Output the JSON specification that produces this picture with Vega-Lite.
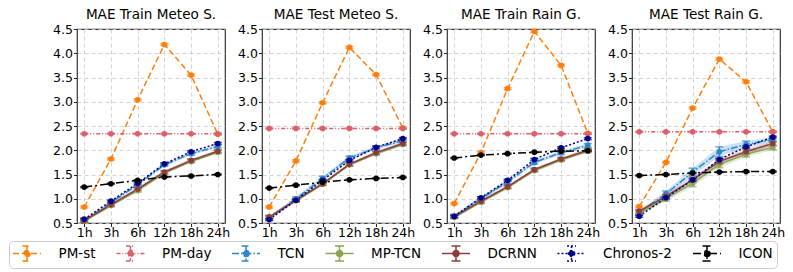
{
"$schema": "https://vega.github.io/schema/vega-lite/v6.json",
"padding": {"left": 8, "top": 8, "right": 5, "bottom": 5},
"background": "white",
"config": {
  "font": "DejaVu Sans",
  "view": {"stroke": "#333333", "strokeWidth": 1.2},
  "axis": {"grid": true, "gridColor": "#c8c8c8", "gridDash": [4, 3], "gridWidth": 0.8, "domain": false, "tickColor": "#222222", "tickSize": 3.5, "labelFontSize": 12.5, "labelColor": "#000000", "labelFont": "DejaVu Sans", "labelOverlap": false}
},
"datasets": {
"d": [
{"p":"MAE Train Meteo S.","m":"PM-st","h":"1h","v":0.83,"e":0.02},
{"p":"MAE Train Meteo S.","m":"PM-st","h":"3h","v":1.82,"e":0.02},
{"p":"MAE Train Meteo S.","m":"PM-st","h":"6h","v":3.04,"e":0.02},
{"p":"MAE Train Meteo S.","m":"PM-st","h":"12h","v":4.18,"e":0.02},
{"p":"MAE Train Meteo S.","m":"PM-st","h":"18h","v":3.55,"e":0.02},
{"p":"MAE Train Meteo S.","m":"PM-st","h":"24h","v":2.33,"e":0.02},
{"p":"MAE Train Meteo S.","m":"PM-day","h":"1h","v":2.34,"e":0.01},
{"p":"MAE Train Meteo S.","m":"PM-day","h":"3h","v":2.34,"e":0.01},
{"p":"MAE Train Meteo S.","m":"PM-day","h":"6h","v":2.34,"e":0.01},
{"p":"MAE Train Meteo S.","m":"PM-day","h":"12h","v":2.34,"e":0.01},
{"p":"MAE Train Meteo S.","m":"PM-day","h":"18h","v":2.34,"e":0.01},
{"p":"MAE Train Meteo S.","m":"PM-day","h":"24h","v":2.34,"e":0.01},
{"p":"MAE Train Meteo S.","m":"TCN","h":"1h","v":0.55,"e":0.03},
{"p":"MAE Train Meteo S.","m":"TCN","h":"3h","v":0.92,"e":0.03},
{"p":"MAE Train Meteo S.","m":"TCN","h":"6h","v":1.29,"e":0.03},
{"p":"MAE Train Meteo S.","m":"TCN","h":"12h","v":1.70,"e":0.03},
{"p":"MAE Train Meteo S.","m":"TCN","h":"18h","v":1.93,"e":0.03},
{"p":"MAE Train Meteo S.","m":"TCN","h":"24h","v":2.08,"e":0.03},
{"p":"MAE Train Meteo S.","m":"MP-TCN","h":"1h","v":0.54,"e":0.03},
{"p":"MAE Train Meteo S.","m":"MP-TCN","h":"3h","v":0.86,"e":0.03},
{"p":"MAE Train Meteo S.","m":"MP-TCN","h":"6h","v":1.17,"e":0.03},
{"p":"MAE Train Meteo S.","m":"MP-TCN","h":"12h","v":1.53,"e":0.03},
{"p":"MAE Train Meteo S.","m":"MP-TCN","h":"18h","v":1.77,"e":0.03},
{"p":"MAE Train Meteo S.","m":"MP-TCN","h":"24h","v":1.96,"e":0.03},
{"p":"MAE Train Meteo S.","m":"DCRNN","h":"1h","v":0.55,"e":0.03},
{"p":"MAE Train Meteo S.","m":"DCRNN","h":"3h","v":0.88,"e":0.03},
{"p":"MAE Train Meteo S.","m":"DCRNN","h":"6h","v":1.20,"e":0.03},
{"p":"MAE Train Meteo S.","m":"DCRNN","h":"12h","v":1.55,"e":0.03},
{"p":"MAE Train Meteo S.","m":"DCRNN","h":"18h","v":1.79,"e":0.03},
{"p":"MAE Train Meteo S.","m":"DCRNN","h":"24h","v":1.98,"e":0.03},
{"p":"MAE Train Meteo S.","m":"Chronos-2","h":"1h","v":0.58,"e":0.02},
{"p":"MAE Train Meteo S.","m":"Chronos-2","h":"3h","v":0.95,"e":0.02},
{"p":"MAE Train Meteo S.","m":"Chronos-2","h":"6h","v":1.32,"e":0.02},
{"p":"MAE Train Meteo S.","m":"Chronos-2","h":"12h","v":1.72,"e":0.02},
{"p":"MAE Train Meteo S.","m":"Chronos-2","h":"18h","v":1.97,"e":0.02},
{"p":"MAE Train Meteo S.","m":"Chronos-2","h":"24h","v":2.14,"e":0.02},
{"p":"MAE Train Meteo S.","m":"ICON","h":"1h","v":1.24,"e":0.01},
{"p":"MAE Train Meteo S.","m":"ICON","h":"3h","v":1.31,"e":0.01},
{"p":"MAE Train Meteo S.","m":"ICON","h":"6h","v":1.38,"e":0.01},
{"p":"MAE Train Meteo S.","m":"ICON","h":"12h","v":1.45,"e":0.01},
{"p":"MAE Train Meteo S.","m":"ICON","h":"18h","v":1.47,"e":0.01},
{"p":"MAE Train Meteo S.","m":"ICON","h":"24h","v":1.50,"e":0.01},

{"p":"MAE Test Meteo S.","m":"PM-st","h":"1h","v":0.83,"e":0.02},
{"p":"MAE Test Meteo S.","m":"PM-st","h":"3h","v":1.78,"e":0.02},
{"p":"MAE Test Meteo S.","m":"PM-st","h":"6h","v":2.98,"e":0.02},
{"p":"MAE Test Meteo S.","m":"PM-st","h":"12h","v":4.12,"e":0.02},
{"p":"MAE Test Meteo S.","m":"PM-st","h":"18h","v":3.56,"e":0.02},
{"p":"MAE Test Meteo S.","m":"PM-st","h":"24h","v":2.46,"e":0.02},
{"p":"MAE Test Meteo S.","m":"PM-day","h":"1h","v":2.45,"e":0.01},
{"p":"MAE Test Meteo S.","m":"PM-day","h":"3h","v":2.45,"e":0.01},
{"p":"MAE Test Meteo S.","m":"PM-day","h":"6h","v":2.45,"e":0.01},
{"p":"MAE Test Meteo S.","m":"PM-day","h":"12h","v":2.45,"e":0.01},
{"p":"MAE Test Meteo S.","m":"PM-day","h":"18h","v":2.45,"e":0.01},
{"p":"MAE Test Meteo S.","m":"PM-day","h":"24h","v":2.45,"e":0.01},
{"p":"MAE Test Meteo S.","m":"TCN","h":"1h","v":0.60,"e":0.04},
{"p":"MAE Test Meteo S.","m":"TCN","h":"3h","v":1.00,"e":0.04},
{"p":"MAE Test Meteo S.","m":"TCN","h":"6h","v":1.42,"e":0.04},
{"p":"MAE Test Meteo S.","m":"TCN","h":"12h","v":1.84,"e":0.04},
{"p":"MAE Test Meteo S.","m":"TCN","h":"18h","v":2.05,"e":0.04},
{"p":"MAE Test Meteo S.","m":"TCN","h":"24h","v":2.20,"e":0.04},
{"p":"MAE Test Meteo S.","m":"MP-TCN","h":"1h","v":0.63,"e":0.03},
{"p":"MAE Test Meteo S.","m":"MP-TCN","h":"3h","v":0.96,"e":0.03},
{"p":"MAE Test Meteo S.","m":"MP-TCN","h":"6h","v":1.30,"e":0.03},
{"p":"MAE Test Meteo S.","m":"MP-TCN","h":"12h","v":1.70,"e":0.03},
{"p":"MAE Test Meteo S.","m":"MP-TCN","h":"18h","v":1.93,"e":0.03},
{"p":"MAE Test Meteo S.","m":"MP-TCN","h":"24h","v":2.12,"e":0.03},
{"p":"MAE Test Meteo S.","m":"DCRNN","h":"1h","v":0.62,"e":0.03},
{"p":"MAE Test Meteo S.","m":"DCRNN","h":"3h","v":0.97,"e":0.03},
{"p":"MAE Test Meteo S.","m":"DCRNN","h":"6h","v":1.31,"e":0.03},
{"p":"MAE Test Meteo S.","m":"DCRNN","h":"12h","v":1.71,"e":0.03},
{"p":"MAE Test Meteo S.","m":"DCRNN","h":"18h","v":1.95,"e":0.03},
{"p":"MAE Test Meteo S.","m":"DCRNN","h":"24h","v":2.14,"e":0.03},
{"p":"MAE Test Meteo S.","m":"Chronos-2","h":"1h","v":0.57,"e":0.02},
{"p":"MAE Test Meteo S.","m":"Chronos-2","h":"3h","v":0.97,"e":0.02},
{"p":"MAE Test Meteo S.","m":"Chronos-2","h":"6h","v":1.38,"e":0.02},
{"p":"MAE Test Meteo S.","m":"Chronos-2","h":"12h","v":1.79,"e":0.02},
{"p":"MAE Test Meteo S.","m":"Chronos-2","h":"18h","v":2.06,"e":0.02},
{"p":"MAE Test Meteo S.","m":"Chronos-2","h":"24h","v":2.24,"e":0.02},
{"p":"MAE Test Meteo S.","m":"ICON","h":"1h","v":1.22,"e":0.01},
{"p":"MAE Test Meteo S.","m":"ICON","h":"3h","v":1.28,"e":0.01},
{"p":"MAE Test Meteo S.","m":"ICON","h":"6h","v":1.34,"e":0.01},
{"p":"MAE Test Meteo S.","m":"ICON","h":"12h","v":1.39,"e":0.01},
{"p":"MAE Test Meteo S.","m":"ICON","h":"18h","v":1.42,"e":0.01},
{"p":"MAE Test Meteo S.","m":"ICON","h":"24h","v":1.44,"e":0.01},

{"p":"MAE Train Rain G.","m":"PM-st","h":"1h","v":0.90,"e":0.02},
{"p":"MAE Train Rain G.","m":"PM-st","h":"3h","v":1.95,"e":0.02},
{"p":"MAE Train Rain G.","m":"PM-st","h":"6h","v":3.27,"e":0.02},
{"p":"MAE Train Rain G.","m":"PM-st","h":"12h","v":4.45,"e":0.02},
{"p":"MAE Train Rain G.","m":"PM-st","h":"18h","v":3.75,"e":0.02},
{"p":"MAE Train Rain G.","m":"PM-st","h":"24h","v":2.35,"e":0.02},
{"p":"MAE Train Rain G.","m":"PM-day","h":"1h","v":2.34,"e":0.01},
{"p":"MAE Train Rain G.","m":"PM-day","h":"3h","v":2.34,"e":0.01},
{"p":"MAE Train Rain G.","m":"PM-day","h":"6h","v":2.34,"e":0.01},
{"p":"MAE Train Rain G.","m":"PM-day","h":"12h","v":2.34,"e":0.01},
{"p":"MAE Train Rain G.","m":"PM-day","h":"18h","v":2.34,"e":0.01},
{"p":"MAE Train Rain G.","m":"PM-day","h":"24h","v":2.34,"e":0.01},
{"p":"MAE Train Rain G.","m":"TCN","h":"1h","v":0.64,"e":0.04},
{"p":"MAE Train Rain G.","m":"TCN","h":"3h","v":1.00,"e":0.04},
{"p":"MAE Train Rain G.","m":"TCN","h":"6h","v":1.35,"e":0.04},
{"p":"MAE Train Rain G.","m":"TCN","h":"12h","v":1.75,"e":0.04},
{"p":"MAE Train Rain G.","m":"TCN","h":"18h","v":1.95,"e":0.04},
{"p":"MAE Train Rain G.","m":"TCN","h":"24h","v":2.10,"e":0.04},
{"p":"MAE Train Rain G.","m":"MP-TCN","h":"1h","v":0.62,"e":0.03},
{"p":"MAE Train Rain G.","m":"MP-TCN","h":"3h","v":0.93,"e":0.03},
{"p":"MAE Train Rain G.","m":"MP-TCN","h":"6h","v":1.23,"e":0.03},
{"p":"MAE Train Rain G.","m":"MP-TCN","h":"12h","v":1.58,"e":0.03},
{"p":"MAE Train Rain G.","m":"MP-TCN","h":"18h","v":1.80,"e":0.03},
{"p":"MAE Train Rain G.","m":"MP-TCN","h":"24h","v":1.98,"e":0.03},
{"p":"MAE Train Rain G.","m":"DCRNN","h":"1h","v":0.63,"e":0.03},
{"p":"MAE Train Rain G.","m":"DCRNN","h":"3h","v":0.95,"e":0.03},
{"p":"MAE Train Rain G.","m":"DCRNN","h":"6h","v":1.25,"e":0.03},
{"p":"MAE Train Rain G.","m":"DCRNN","h":"12h","v":1.60,"e":0.03},
{"p":"MAE Train Rain G.","m":"DCRNN","h":"18h","v":1.82,"e":0.03},
{"p":"MAE Train Rain G.","m":"DCRNN","h":"24h","v":2.00,"e":0.03},
{"p":"MAE Train Rain G.","m":"Chronos-2","h":"1h","v":0.64,"e":0.02},
{"p":"MAE Train Rain G.","m":"Chronos-2","h":"3h","v":1.02,"e":0.02},
{"p":"MAE Train Rain G.","m":"Chronos-2","h":"6h","v":1.38,"e":0.02},
{"p":"MAE Train Rain G.","m":"Chronos-2","h":"12h","v":1.81,"e":0.02},
{"p":"MAE Train Rain G.","m":"Chronos-2","h":"18h","v":2.05,"e":0.02},
{"p":"MAE Train Rain G.","m":"Chronos-2","h":"24h","v":2.24,"e":0.02},
{"p":"MAE Train Rain G.","m":"ICON","h":"1h","v":1.84,"e":0.01},
{"p":"MAE Train Rain G.","m":"ICON","h":"3h","v":1.90,"e":0.01},
{"p":"MAE Train Rain G.","m":"ICON","h":"6h","v":1.93,"e":0.01},
{"p":"MAE Train Rain G.","m":"ICON","h":"12h","v":1.96,"e":0.01},
{"p":"MAE Train Rain G.","m":"ICON","h":"18h","v":1.98,"e":0.01},
{"p":"MAE Train Rain G.","m":"ICON","h":"24h","v":1.99,"e":0.01},

{"p":"MAE Test Rain G.","m":"PM-st","h":"1h","v":0.84,"e":0.02},
{"p":"MAE Test Rain G.","m":"PM-st","h":"3h","v":1.75,"e":0.02},
{"p":"MAE Test Rain G.","m":"PM-st","h":"6h","v":2.87,"e":0.02},
{"p":"MAE Test Rain G.","m":"PM-st","h":"12h","v":3.88,"e":0.02},
{"p":"MAE Test Rain G.","m":"PM-st","h":"18h","v":3.41,"e":0.02},
{"p":"MAE Test Rain G.","m":"PM-st","h":"24h","v":2.38,"e":0.02},
{"p":"MAE Test Rain G.","m":"PM-day","h":"1h","v":2.38,"e":0.01},
{"p":"MAE Test Rain G.","m":"PM-day","h":"3h","v":2.38,"e":0.01},
{"p":"MAE Test Rain G.","m":"PM-day","h":"6h","v":2.38,"e":0.01},
{"p":"MAE Test Rain G.","m":"PM-day","h":"12h","v":2.38,"e":0.01},
{"p":"MAE Test Rain G.","m":"PM-day","h":"18h","v":2.38,"e":0.01},
{"p":"MAE Test Rain G.","m":"PM-day","h":"24h","v":2.38,"e":0.01},
{"p":"MAE Test Rain G.","m":"TCN","h":"1h","v":0.72,"e":0.04},
{"p":"MAE Test Rain G.","m":"TCN","h":"3h","v":1.10,"e":0.06},
{"p":"MAE Test Rain G.","m":"TCN","h":"6h","v":1.55,"e":0.08},
{"p":"MAE Test Rain G.","m":"TCN","h":"12h","v":1.97,"e":0.10},
{"p":"MAE Test Rain G.","m":"TCN","h":"18h","v":2.12,"e":0.07},
{"p":"MAE Test Rain G.","m":"TCN","h":"24h","v":2.22,"e":0.05},
{"p":"MAE Test Rain G.","m":"MP-TCN","h":"1h","v":0.70,"e":0.04},
{"p":"MAE Test Rain G.","m":"MP-TCN","h":"3h","v":1.00,"e":0.05},
{"p":"MAE Test Rain G.","m":"MP-TCN","h":"6h","v":1.32,"e":0.07},
{"p":"MAE Test Rain G.","m":"MP-TCN","h":"12h","v":1.71,"e":0.07},
{"p":"MAE Test Rain G.","m":"MP-TCN","h":"18h","v":1.92,"e":0.06},
{"p":"MAE Test Rain G.","m":"MP-TCN","h":"24h","v":2.06,"e":0.05},
{"p":"MAE Test Rain G.","m":"DCRNN","h":"1h","v":0.74,"e":0.04},
{"p":"MAE Test Rain G.","m":"DCRNN","h":"3h","v":1.05,"e":0.04},
{"p":"MAE Test Rain G.","m":"DCRNN","h":"6h","v":1.39,"e":0.05},
{"p":"MAE Test Rain G.","m":"DCRNN","h":"12h","v":1.77,"e":0.05},
{"p":"MAE Test Rain G.","m":"DCRNN","h":"18h","v":1.97,"e":0.05},
{"p":"MAE Test Rain G.","m":"DCRNN","h":"24h","v":2.14,"e":0.05},
{"p":"MAE Test Rain G.","m":"Chronos-2","h":"1h","v":0.64,"e":0.02},
{"p":"MAE Test Rain G.","m":"Chronos-2","h":"3h","v":1.02,"e":0.02},
{"p":"MAE Test Rain G.","m":"Chronos-2","h":"6h","v":1.39,"e":0.02},
{"p":"MAE Test Rain G.","m":"Chronos-2","h":"12h","v":1.81,"e":0.02},
{"p":"MAE Test Rain G.","m":"Chronos-2","h":"18h","v":2.07,"e":0.02},
{"p":"MAE Test Rain G.","m":"Chronos-2","h":"24h","v":2.27,"e":0.02},
{"p":"MAE Test Rain G.","m":"ICON","h":"1h","v":1.48,"e":0.01},
{"p":"MAE Test Rain G.","m":"ICON","h":"3h","v":1.50,"e":0.01},
{"p":"MAE Test Rain G.","m":"ICON","h":"6h","v":1.53,"e":0.01},
{"p":"MAE Test Rain G.","m":"ICON","h":"12h","v":1.55,"e":0.01},
{"p":"MAE Test Rain G.","m":"ICON","h":"18h","v":1.56,"e":0.01},
{"p":"MAE Test Rain G.","m":"ICON","h":"24h","v":1.56,"e":0.01}
]
},
"data": {"name": "d"},
"bounds": "flush",
"spacing": 37,
"resolve": {"axis": {"y": "independent"}},
"facet": {"column": {"field": "p", "type": "nominal", "sort": ["MAE Train Meteo S.", "MAE Test Meteo S.", "MAE Train Rain G.", "MAE Test Rain G."], "header": {"title": null, "labelFontSize": 13.6, "labelFont": "DejaVu Sans", "labelColor": "#000000", "labelPadding": 7}}},
"spec": {
  "width": 148,
  "height": 194,
  "encoding": {
    "x": {"field": "h", "type": "ordinal", "sort": ["1h", "3h", "6h", "12h", "18h", "24h"], "scale": {"type": "point", "padding": 0.27}, "axis": {"title": null, "labelAngle": 0, "labelPadding": 0}},
    "y": {"field": "v", "type": "quantitative", "scale": {"domain": [0.5, 4.5], "nice": false, "zero": false}, "axis": {"title": null, "values": [0.5, 1, 1.5, 2, 2.5, 3, 3.5, 4, 4.5], "format": ".1f", "labelPadding": 1, "labelOverlap": false, "labelFontSize": 12.5}},
    "color": {"field": "m", "type": "nominal", "scale": {"domain": ["PM-st", "PM-day", "TCN", "MP-TCN", "DCRNN", "Chronos-2", "ICON"], "range": ["#ff7f0e", "#dc5f6c", "#2e86c8", "#89a551", "#8c3c3c", "#00008b", "#000000"]},
      "legend": {"title": null, "orient": "none", "legendX": -68, "legendY": 212, "direction": "horizontal", "columns": 7, "columnPadding": 16.5, "symbolType": "M-1.87,0H1.87M0,-1V1M-0.6,-1H0.6M-0.6,1H0.6M0.4,0A0.4,0.4 0 1,1 -0.4,0A0.4,0.4 0 1,1 0.4,0Z", "symbolSize": 225, "symbolOffset": 5.5, "symbolStrokeWidth": 1.5, "labelFontSize": 13.5, "labelFont": "DejaVu Sans", "labelColor": "#000000", "labelOffset": 23, "padding": 4, "strokeColor": "#cccccc", "fillColor": "white", "cornerRadius": 4, "symbolOpacity": 1,
        "encode": {"symbols": {"update": {"fill": {"scale": "color", "field": "value"}}}}}}
  },
  "layer": [
    {
      "transform": [{"filter": {"field": "m", "oneOf": ["TCN", "MP-TCN", "DCRNN"]}}],
      "mark": {"type": "errorband", "opacity": 0.25},
      "encoding": {
        "yError": {"field": "e"}
      }
    },
    {
      "mark": {"type": "line", "strokeWidth": 1.5},
      "encoding": {
        "strokeDash": {"field": "m", "type": "nominal", "scale": {"domain": ["PM-st", "PM-day", "TCN", "MP-TCN", "DCRNN", "Chronos-2", "ICON"], "range": [[6, 3], [4, 2, 1, 2, 1, 2], [7, 2, 1.5, 2], [1, 0], [1, 0], [2, 2], [8, 3, 2, 3]]},
          "legend": {"title": null, "orient": "none", "legendX": -68, "legendY": 212, "direction": "horizontal", "columns": 7, "columnPadding": 16.5, "symbolType": "M-1.87,0H1.87M0,-1V1M-0.6,-1H0.6M-0.6,1H0.6M0.4,0A0.4,0.4 0 1,1 -0.4,0A0.4,0.4 0 1,1 0.4,0Z", "symbolSize": 225, "symbolOffset": 5.5, "symbolStrokeWidth": 1.5, "labelFontSize": 13.5, "labelFont": "DejaVu Sans", "labelColor": "#000000", "labelOffset": 23, "padding": 4, "strokeColor": "#cccccc", "fillColor": "white", "cornerRadius": 4, "symbolOpacity": 1,
            "encode": {"symbols": {"update": {"fill": {"scale": "color", "field": "value"}}}}}}
      }
    },
    {
      "mark": {"type": "errorbar", "ticks": {"size": 8}, "thickness": 1.5},
      "encoding": {
        "yError": {"field": "e"}
      }
    },
    {
      "mark": {"type": "point", "filled": true, "size": 32, "opacity": 1},
      "encoding": {}
    }
  ]
}
}
